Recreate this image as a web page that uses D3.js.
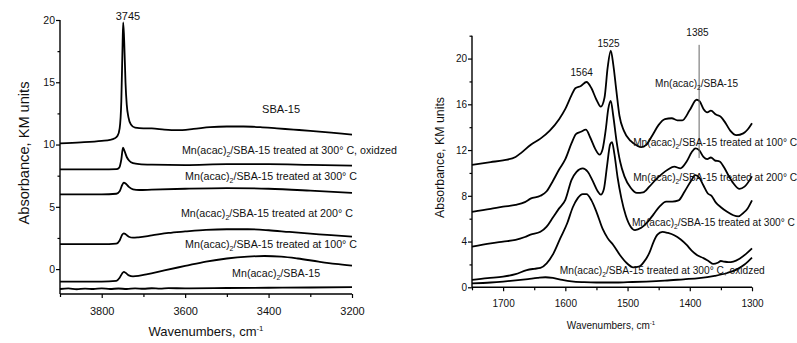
<!DOCTYPE html>
<html><head><meta charset="utf-8">
<script src="https://cdn.jsdelivr.net/npm/d3@7"></script>
<style>
html,body{margin:0;padding:0;background:#fff;}
svg{display:block;font-family:"Liberation Sans",Arial,sans-serif;}
</style></head>
<body>
<svg id="c" width="797" height="343"></svg>
<script>
// ---------- LEFT PANEL DATA (wavenumber, absorbance) ----------
const leftSBA = [[3900,10.1],[3850,10.18],[3800,10.3],[3780,10.38],[3770,10.48],[3762,10.7],[3757,11.3],[3753,13.5],[3750,18.0],[3748.5,19.8],[3746,18.2],[3743,15.0],[3740,13.2],[3736,12.2],[3730,11.6],[3720,11.35],[3700,11.3],[3680,11.3],[3650,11.2],[3620,11.15],[3580,11.25],[3540,11.4],[3500,11.45],[3460,11.45],[3420,11.4],[3380,11.3],[3340,11.2],[3300,11.1],[3250,10.95],[3200,10.8]];
const leftOx = [[3900,8.0],[3800,8.0],[3765,8.02],[3758,8.15],[3753,8.8],[3749,9.75],[3745,9.45],[3740,9.0],[3734,8.7],[3725,8.5],[3710,8.42],[3680,8.38],[3600,8.35],[3500,8.42],[3400,8.42],[3300,8.36],[3200,8.3]];
const left300 = [[3900,6.0],[3800,6.0],[3765,6.05],[3757,6.25],[3751,6.75],[3747,6.95],[3742,6.85],[3735,6.6],[3725,6.4],[3710,6.35],[3680,6.38],[3600,6.45],[3500,6.5],[3400,6.45],[3300,6.3],[3200,6.12]];
const left200 = [[3900,2.0],[3800,2.0],[3765,2.05],[3757,2.3],[3751,2.75],[3747,2.87],[3742,2.78],[3735,2.6],[3725,2.52],[3712,2.55],[3680,2.7],[3640,2.9],[3600,3.02],[3550,3.15],[3500,3.2],[3450,3.2],[3400,3.12],[3350,2.98],[3300,2.85],[3250,2.72],[3200,2.6]];
const left100 = [[3900,-1.0],[3800,-1.0],[3765,-0.95],[3757,-0.7],[3751,-0.35],[3747,-0.22],[3742,-0.32],[3735,-0.5],[3725,-0.58],[3712,-0.55],[3690,-0.4],[3650,-0.1],[3600,0.25],[3550,0.6],[3500,0.85],[3450,1.0],[3410,1.05],[3370,1.0],[3330,0.85],[3280,0.6],[3240,0.42],[3200,0.28]];
const leftMn = [[3900,-1.6],[3880,-1.55],[3860,-1.62],[3840,-1.57],[3820,-1.6],[3800,-1.55],[3780,-1.6],[3760,-1.56],[3740,-1.6],[3720,-1.55],[3700,-1.58],[3680,-1.54],[3660,-1.57],[3640,-1.53],[3600,-1.55],[3500,-1.52],[3400,-1.5],[3300,-1.48],[3200,-1.45]];
const leftXDomain = [3900, 3200];
const leftYDomain = [-2, 20];
const leftXMajor = [3800, 3600, 3400, 3200];
const leftXMinor = [3900, 3700, 3500, 3300];
const leftYMajor = [0, 5, 10, 15, 20];
const leftYMinor = [2.5, 7.5, 12.5, 17.5];

// ---------- RIGHT PANEL DATA ----------
const rightSBA = [[1750,10.7],[1720,10.95],[1700,11.1],[1680,11.4],[1670,11.8],[1656,12.45],[1640,13.0],[1625,13.7],[1610,14.7],[1600,15.6],[1590,16.8],[1584,17.4],[1575,17.6],[1566,17.95],[1558,17.4],[1550,16.4],[1543,15.8],[1537,16.6],[1532,19.2],[1527,20.7],[1523,19.5],[1518,17.2],[1513,15.0],[1506,13.7],[1495,12.8],[1485,12.4],[1478,12.25],[1470,12.45],[1460,13.3],[1450,14.2],[1440,14.7],[1429,14.78],[1420,14.6],[1412,14.6],[1400,15.5],[1389,16.4],[1384,16.25],[1378,15.6],[1372,15.3],[1366,15.45],[1358,15.1],[1350,14.9],[1343,14.4],[1335,13.7],[1325,13.3],[1314,13.46],[1307,13.8],[1300,14.35]];
const right100 = [[1750,6.6],[1720,6.85],[1700,7.05],[1680,7.2],[1665,7.45],[1656,7.75],[1640,8.0],[1630,8.4],[1620,9.3],[1610,10.3],[1600,11.2],[1590,12.6],[1583,13.4],[1575,13.6],[1567,13.78],[1560,13.1],[1552,12.1],[1545,11.6],[1540,12.1],[1535,13.8],[1531,15.6],[1527,16.3],[1523,15.0],[1518,12.9],[1512,11.0],[1505,9.7],[1495,8.7],[1485,8.25],[1475,8.3],[1465,8.8],[1455,9.4],[1445,9.9],[1435,10.3],[1425,10.55],[1415,10.4],[1405,11.0],[1397,11.8],[1391,12.15],[1385,12.0],[1378,11.4],[1372,11.2],[1366,11.35],[1360,11.1],[1352,11.0],[1345,10.5],[1338,9.8],[1330,9.1],[1320,8.6],[1312,8.8],[1300,9.7]];
const right200 = [[1750,3.55],[1720,3.85],[1700,4.0],[1680,4.15],[1665,4.4],[1656,4.6],[1640,4.85],[1630,5.3],[1620,6.1],[1610,6.9],[1600,7.65],[1590,9.4],[1582,10.1],[1572,10.4],[1564,10.1],[1556,9.3],[1548,8.4],[1543,8.1],[1538,8.6],[1533,10.6],[1528,12.5],[1525,12.7],[1521,11.6],[1516,9.6],[1510,7.8],[1503,6.3],[1495,5.3],[1488,5.0],[1478,5.2],[1468,5.7],[1458,6.4],[1448,7.1],[1438,7.5],[1428,7.5],[1418,7.6],[1408,8.4],[1398,9.3],[1391,9.8],[1385,9.6],[1378,8.9],[1371,8.2],[1365,8.0],[1358,7.4],[1350,7.0],[1340,6.6],[1330,6.3],[1322,6.2],[1314,6.5],[1307,6.9],[1300,7.6]];
const right300 = [[1750,0.64],[1725,0.8],[1700,0.93],[1680,1.15],[1662,1.5],[1650,1.62],[1640,1.7],[1630,2.1],[1619,2.97],[1608,4.3],[1597,5.6],[1588,7.0],[1580,7.8],[1572,8.15],[1566,8.15],[1558,7.6],[1550,6.6],[1540,5.1],[1532,4.3],[1523,3.7],[1512,2.8],[1501,2.1],[1491,1.75],[1482,1.8],[1474,2.2],[1465,3.0],[1458,4.0],[1452,4.6],[1444,4.85],[1435,4.75],[1425,4.55],[1415,4.2],[1405,3.7],[1397,3.2],[1388,2.8],[1378,2.55],[1370,2.3],[1362,2.05],[1355,2.15],[1350,2.3],[1345,2.25],[1338,2.2],[1330,2.25],[1320,2.5],[1310,2.9],[1300,3.4]];
const rightOx = [[1750,0.35],[1720,0.42],[1700,0.5],[1680,0.6],[1660,0.72],[1645,0.82],[1632,0.88],[1620,0.82],[1605,0.65],[1590,0.52],[1570,0.45],[1550,0.42],[1520,0.42],[1500,0.45],[1470,0.5],[1440,0.58],[1410,0.7],[1385,0.8],[1360,1.0],[1340,1.25],[1325,1.55],[1312,2.0],[1300,2.6]];
const rightXDomain = [1750, 1300];
const rightYDomain = [0, 22];
const rightXMajor = [1700, 1600, 1500, 1400, 1300];
const rightXMinor = [1750, 1650, 1550, 1450, 1350];
const rightYMajor = [0, 4, 8, 12, 16, 20];
const rightYMinor = [2, 6, 10, 14, 18, 22];
const rightMarker = {x: 1385, y0: 11.3, y1: 21.2};

// curve labels, anchored in data coords
const leftLabels = [
  {t: null, plain: "SBA-15", x: 3370, y: 12.5, w: 38, anchor: "middle"},
  {t: "300", sfx: ", oxidzed", x: 3350, y: 9.24, w: 215, anchor: "middle"},
  {t: "300", sfx: "", x: 3394, y: 7.19, w: 172, anchor: "middle"},
  {t: "200", sfx: "", x: 3404, y: 4.18, w: 172, anchor: "middle"},
  {t: "100", sfx: "", x: 3394, y: 1.69, w: 172, anchor: "middle"},
  {t: "", sfx: "", x: 3382, y: -0.63, w: 88, anchor: "middle"}
];
const rightLabels = [
  {t: "", sfx: "", x: 1389, y: 17.5, w: 83, anchor: "middle"},
  {t: "100", sfx: "", x: 1491, y: 12.39, w: 164, anchor: "start"},
  {t: "200", sfx: "", x: 1491, y: 9.33, w: 164, anchor: "start"},
  {t: "300", sfx: "", x: 1493, y: 5.4, w: 163, anchor: "start"},
  {t: "300", sfx: ", oxidzed", x: 1609, y: 1.16, w: 205, anchor: "start"}
];
const leftPeaks = [{text: "3745", x: 3737, y: 20.0}];
const rightPeaks = [{text: "1385", x: 1387.6, y: 22.0},{text: "1525", x: 1530.6, y: 21.0},{text: "1564", x: 1573.7, y: 18.5}];

const svg = d3.select("#c");

function panel(cfg) {
  const g = svg.append("g");
  const x = d3.scaleLinear().domain(cfg.xDomain).range(cfg.xRange);
  const y = d3.scaleLinear().domain(cfg.yDomain).range(cfg.yRange);
  const line = d3.line().x(d => x(d[0])).y(d => y(d[1])).curve(d3.curveMonotoneX);

  cfg.series.forEach(s => {
    g.append("path").attr("d", line(s)).attr("fill", "none")
      .attr("stroke", "#000").attr("stroke-width", 1.8).attr("stroke-linejoin", "round");
  });

  if (cfg.marker) {
    g.append("line").attr("x1", x(cfg.marker.x)).attr("x2", x(cfg.marker.x))
      .attr("y1", y(cfg.marker.y0)).attr("y2", y(cfg.marker.y1))
      .attr("stroke", "#666").attr("stroke-width", 1);
  }

  const xa = g.append("g").attr("transform", `translate(0,${cfg.yRange[0]})`)
    .call(d3.axisBottom(x).tickValues(cfg.xMajor).tickSize(4).tickPadding(cfg.xPad).tickFormat(d3.format("d")));
  g.append("g").attr("transform", `translate(0,${cfg.yRange[0]})`)
    .call(d3.axisBottom(x).tickValues(cfg.xMinor).tickSize(3).tickFormat(""))
    .select(".domain").remove();
  const ya = g.append("g").attr("transform", `translate(${cfg.xRange[0]},0)`)
    .call(d3.axisLeft(y).tickValues(cfg.yMajor).tickSize(4).tickPadding(1).tickFormat(d3.format("d")));
  g.append("g").attr("transform", `translate(${cfg.xRange[0]},0)`)
    .call(d3.axisLeft(y).tickValues(cfg.yMinor).tickSize(2.5).tickFormat(""))
    .select(".domain").remove();
  g.selectAll(".domain").attr("stroke-width", 1.4);
  xa.select(".domain").attr("d", `M${cfg.xRange[0]},0H${cfg.xRange[1]}`);
  ya.select(".domain").attr("d", `M0,${cfg.yRange[0]}V${cfg.yRange[1]}`);
  g.selectAll(".tick line").attr("stroke-width", 1.2);
  xa.selectAll("text").attr("font-size", cfg.xTickFont).attr("font-family", "Liberation Sans, Arial").attr("fill", "#111");
  ya.selectAll("text").attr("font-size", cfg.yTickFont).attr("font-family", "Liberation Sans, Arial").attr("fill", "#111");

  const xt = g.append("text").attr("x", cfg.xTitle.x).attr("y", cfg.xTitle.y)
    .attr("text-anchor", "middle").attr("font-size", cfg.xTitle.size).attr("fill", "#111");
  xt.append("tspan").text("Wavenumbers, cm");
  xt.append("tspan").text("-1").attr("font-size", cfg.xTitle.size * 0.6).attr("dy", -cfg.xTitle.size * 0.4);

  g.append("text").attr("transform", `translate(${cfg.yTitle.x},${cfg.yTitle.y}) rotate(-90)`)
    .attr("text-anchor", "middle").attr("font-size", cfg.yTitle.size).attr("fill", "#111")
    .attr("textLength", cfg.yTitle.w).attr("lengthAdjust", "spacingAndGlyphs")
    .text("Absorbance, KM units");

  cfg.peaks.forEach(p => {
    g.append("text").attr("x", x(p.x)).attr("y", y(p.y)).attr("text-anchor", "middle")
      .attr("font-size", cfg.peakFont).attr("fill", "#111").text(p.text);
  });

  cfg.labels.forEach(l => {
    const fs = cfg.labelFont;
    const t = g.append("text").attr("x", x(l.x)).attr("y", y(l.y)).attr("text-anchor", l.anchor)
      .attr("font-size", fs).attr("fill", "#111")
      .attr("textLength", l.w).attr("lengthAdjust", "spacingAndGlyphs");
    if (l.t === null) { t.text(l.plain); return; }
    t.append("tspan").text("Mn(acac)");
    t.append("tspan").text("2").attr("font-size", fs * 0.65).attr("dy", fs * 0.3);
    const rest = "/SBA-15" + (l.t !== "" ? " treated at " + l.t + "\u00B0 C" + l.sfx : "");
    t.append("tspan").text(rest).attr("dy", -fs * 0.3);
  });
}

panel({
  xDomain: leftXDomain, yDomain: leftYDomain, xRange: [60, 352], yRange: [294, 20],
  series: [leftSBA, leftOx, left300, left200, left100, leftMn],
  xMajor: leftXMajor, xMinor: leftXMinor, yMajor: leftYMajor, yMinor: leftYMinor,
  xPad: 9, xTickFont: 11, yTickFont: 10.5,
  xTitle: {x: 206, y: 336, size: 13},
  yTitle: {x: 29, y: 153, size: 14, w: 143},
  peaks: leftPeaks, peakFont: 11,
  labels: leftLabels, labelFont: 11
});

panel({
  xDomain: rightXDomain, yDomain: rightYDomain, xRange: [472, 752], yRange: [287.3, 35.7],
  series: [rightSBA, right100, right200, right300, rightOx],
  xMajor: rightXMajor, xMinor: rightXMinor, yMajor: rightYMajor, yMinor: rightYMinor,
  marker: rightMarker,
  xPad: 9, xTickFont: 10, yTickFont: 10,
  xTitle: {x: 611, y: 329, size: 10},
  yTitle: {x: 444, y: 157.5, size: 12, w: 121},
  peaks: rightPeaks, peakFont: 10,
  labels: rightLabels, labelFont: 10
});
</script>
</body></html>
